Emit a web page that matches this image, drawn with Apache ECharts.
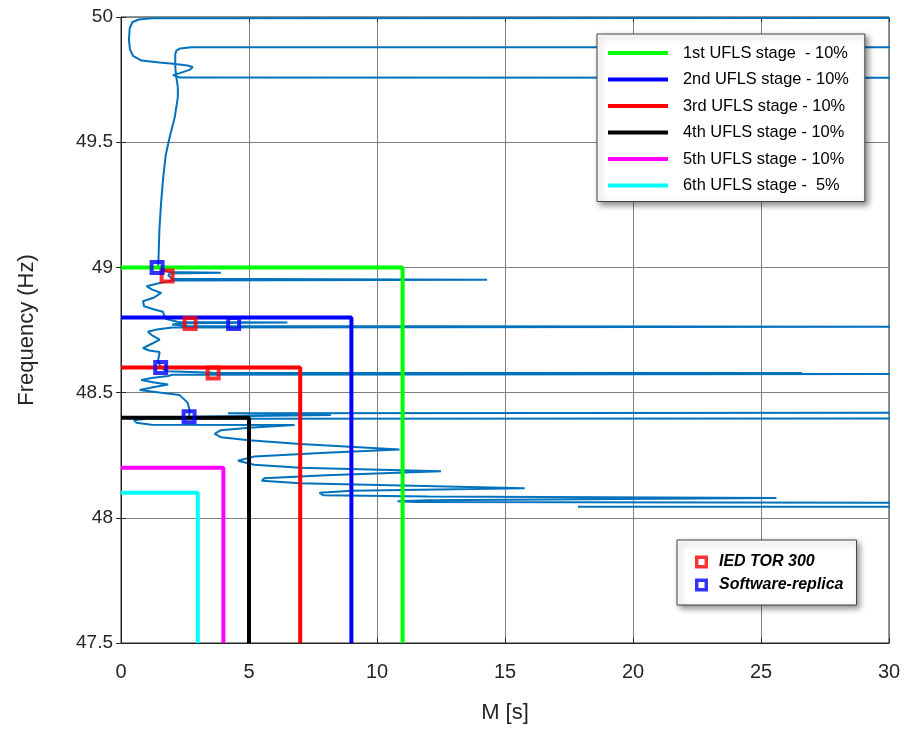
<!DOCTYPE html>
<html>
<head>
<meta charset="utf-8">
<script src="https://cdn.jsdelivr.net/npm/echarts@6/dist/echarts.min.js"></script>
<style>
html,body{margin:0;padding:0;background:#fff;}
#chart{width:912px;height:729px;}
</style>
</head>
<body>
<div id="chart"></div>
<script>
// ---- data ----
const stageNames = [
  '1st UFLS stage  - 10%',
  '2nd UFLS stage - 10%',
  '3rd UFLS stage - 10%',
  '4th UFLS stage - 10%',
  '5th UFLS stage - 10%',
  '6th UFLS stage -  5%'
];
const stageFreq = [49.0, 48.8, 48.6, 48.4, 48.2, 48.1];
const stageDelay = [11, 9, 7, 5, 4, 3];

const xTicks = [0, 5, 10, 15, 20, 25, 30];
const yTicks = [47.5, 48, 48.5, 49, 49.5, 50];

// frequency trajectory [M (s), f (Hz)]
const freqTrace = [
  [31,49.996],[1.2,49.995],[0.7,49.99],[0.45,49.98],[0.34,49.955],[0.31,49.91],[0.35,49.87],
  [0.47,49.845],[0.8,49.826],[1.5,49.818],[2.03,49.813],[2.6,49.806],[2.8,49.80],[2.7,49.79],
  [2.3,49.776],[2.03,49.768],[2.1,49.762],[2.3,49.758],[31,49.757],[31,49.879],
  [2.75,49.879],[2.3,49.874],[2.16,49.866],[2.12,49.85],[2.12,49.8],[2.16,49.76],[2.22,49.72],
  [2.22,49.68],[2.1,49.6],[1.9,49.52],[1.75,49.45],[1.64,49.35],[1.56,49.25],[1.5,49.15],
  [1.47,49.05],[1.45,49.0],[1.6,48.99],[1.85,48.982],[3.9,48.979],[1.9,48.976],[1.85,48.968],
  [2.0,48.955],[14.3,48.951],[2.0,48.948],[1.6,48.94],[1.0,48.925],[1.2,48.912],[1.57,48.898],
  [1.3,48.88],[0.86,48.865],[0.9,48.845],[1.3,48.832],[1.64,48.823],[1.68,48.81],[1.75,48.795],
  [2.23,48.782],[6.5,48.78],[2.4,48.777],[2.0,48.772],[2.6,48.766],[31,48.763],[2.0,48.76],
  [1.4,48.752],[1.05,48.743],[1.2,48.73],[1.51,48.712],[1.2,48.695],[0.86,48.678],[1.1,48.668],
  [1.51,48.662],[1.48,48.645],[1.45,48.63],[1.5,48.612],[1.57,48.6],[1.8,48.585],[3.6,48.579],
  [26.6,48.578],[5,48.576],[31,48.574],[31,48.572],[2.0,48.571],[1.84,48.566],[1.2,48.558],
  [0.79,48.55],[1.3,48.54],[1.84,48.532],[1.2,48.52],[0.73,48.51],[1.5,48.5],[2.29,48.49],
  [2.6,48.46],[2.68,48.43],[2.66,48.404],[8.2,48.411],[4.18,48.418],[31,48.42],[31,48.397],
  [1.0,48.396],[0.5,48.39],[0.6,48.38],[1.19,48.372],[6.78,48.371],[5,48.36],[3.9,48.35],
  [3.66,48.335],[3.9,48.322],[5,48.31],[7,48.295],[10.88,48.273],[8,48.26],[5.2,48.245],
  [4.57,48.228],[5.2,48.212],[7,48.2],[12.5,48.186],[8,48.17],[5.6,48.158],[5.5,48.148],
  [7,48.138],[15.77,48.118],[9,48.108],[7.75,48.1],[7.9,48.09],[12,48.085],[25.6,48.079],
  [12,48.07],[10.8,48.066],[11.5,48.063],[31,48.06],[31,48.044],[17.85,48.044]
];

const iedPoints = [[1.8,48.966],[2.7,48.776],[3.6,48.578]];
const replicaPoints = [[1.41,49.0],[4.4,48.776],[1.55,48.6],[2.66,48.404]];

// ---- chart ----
const stageColors = ['#00ff00','#0000ff','#ff0000','#000000','#ff00ff','#00ffff'];
const FONT = '"Liberation Sans", Arial, Helvetica, sans-serif';
const TXT = '#262626';
// hollow square marker (outer clockwise, inner counter-clockwise)
const HOLLOW_SQ = 'path://M0,0L15,0L15,15L0,15Z M4,4L4,11L11,11L11,4Z';

const stageSeries = stageNames.map((name, i) => ({
  name: name,
  type: 'line',
  data: [[0, stageFreq[i]], [stageDelay[i], stageFreq[i]], [stageDelay[i], yTicks[0]]],
  showSymbol: false,
  symbol: 'none',
  color: stageColors[i],
  itemStyle: {color: stageColors[i]},
  lineStyle: {color: stageColors[i], width: 4},
  z: 3,
  animation: false
}));

const chart = echarts.init(document.getElementById('chart'), null, {renderer: 'canvas'});

const option = {
  animation: false,
  backgroundColor: '#fff',
  grid: {left: 121, right: 23, top: 17, bottom: 86, show: true, borderColor: '#262626', borderWidth: 1, backgroundColor: 'transparent'},
  xAxis: [{
    type: 'value', min: xTicks[0], max: xTicks[xTicks.length-1], interval: 5,
    name: 'M [s]', nameLocation: 'middle', nameGap: 59,
    nameTextStyle: {fontFamily: FONT, fontSize: 22, color: TXT},
    axisLine: {show: true, lineStyle: {color: '#262626'}},
    axisTick: {show: true, inside: true, length: 5, lineStyle: {color: '#262626'}},
    axisLabel: {fontFamily: FONT, fontSize: 20, color: TXT, margin: 19},
    splitLine: {show: true, lineStyle: {color: '#808080', width: 1}}
  }, {
    type: 'value', position: 'top', min: 0, max: 30, interval: 5,
    axisLine: {show: false}, axisLabel: {show: false}, splitLine: {show: false},
    axisTick: {show: true, inside: true, length: 5, lineStyle: {color: '#262626'}}
  }],
  yAxis: [{
    type: 'value', min: yTicks[0], max: yTicks[yTicks.length-1], interval: 0.5,
    name: 'Frequency (Hz)', nameLocation: 'middle', nameGap: 83, nameRotate: 90,
    nameTextStyle: {fontFamily: FONT, fontSize: 22, color: TXT},
    axisLine: {show: true, lineStyle: {color: '#262626'}},
    axisTick: {show: true, inside: true, length: 5, lineStyle: {color: '#262626'}},
    axisLabel: {fontFamily: FONT, fontSize: 19, color: TXT, margin: 8},
    splitLine: {show: true, lineStyle: {color: '#808080', width: 1}}
  }, {
    type: 'value', position: 'right', min: 47.5, max: 50, interval: 0.5,
    axisLine: {show: false}, axisLabel: {show: false}, splitLine: {show: false},
    axisTick: {show: true, inside: true, length: 5, lineStyle: {color: '#262626'}}
  }],
  legend: [{
    data: stageNames.map(n => ({name: n, icon: 'rect'})),
    orient: 'vertical',
    left: 597, top: 34,
    itemWidth: 60, itemHeight: 4, itemGap: 8.5,
    padding: [10, 16, 7, 11],
    backgroundColor: '#fff', borderColor: '#444', borderWidth: 1,
    shadowBlur: 6, shadowColor: 'rgba(0,0,0,0.45)', shadowOffsetX: 3, shadowOffsetY: 3,
    textStyle: {fontFamily: FONT, fontSize: 16.4, color: '#000', lineHeight: 18, padding: [0, 0, 0, 10]},
    selectedMode: false
  }, {
    data: ['IED TOR 300', 'Software-replica'],
    orient: 'vertical',
    left: 677, top: 540,
    itemWidth: 13, itemHeight: 13, itemGap: 5,
    padding: [13, 13, 11, 18],
    backgroundColor: '#fff', borderColor: '#444', borderWidth: 1,
    shadowBlur: 6, shadowColor: 'rgba(0,0,0,0.45)', shadowOffsetX: 3, shadowOffsetY: 3,
    textStyle: {fontFamily: FONT, fontSize: 16, color: '#000', fontWeight: 'bold', fontStyle: 'italic', lineHeight: 18, padding: [0, 0, 0, 6]},
    selectedMode: false
  }],
  series: [{
    name: 'trace',
    type: 'line',
    data: freqTrace,
    showSymbol: false,
    symbol: 'none',
    clip: true,
    lineStyle: {color: '#0072BD', width: 2},
    itemStyle: {color: '#0072BD'},
    z: 2
  }].concat(stageSeries).concat([{
    name: 'IED TOR 300',
    type: 'scatter',
    data: iedPoints,
    symbol: HOLLOW_SQ,
    symbolSize: 15,
    itemStyle: {color: '#ff0000'},
    z: 5
  }, {
    name: 'Software-replica',
    type: 'scatter',
    data: replicaPoints,
    symbol: HOLLOW_SQ,
    symbolSize: 15,
    itemStyle: {color: '#0000ff'},
    z: 6
  }])
};
chart.setOption(option);
</script>
</body>
</html>
